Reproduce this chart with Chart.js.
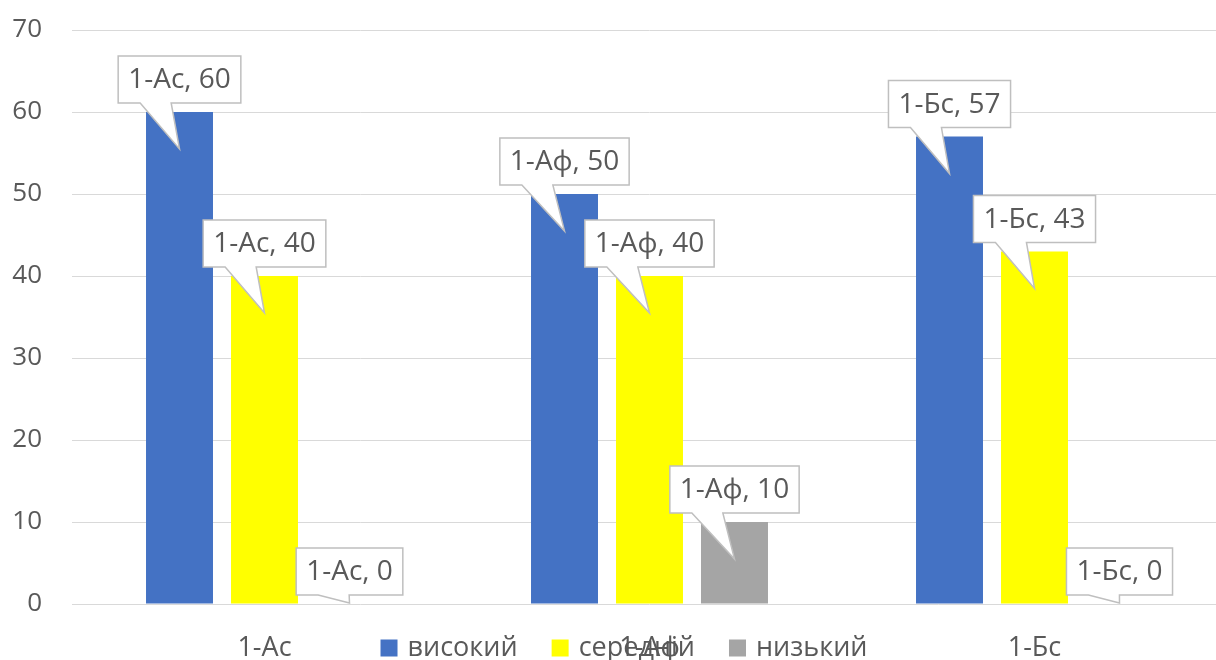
<!DOCTYPE html>
<html>
<head>
<meta charset="utf-8">
<script src="https://cdn.jsdelivr.net/npm/chart.js@4/dist/chart.umd.min.js"></script>
<style>
  html, body { margin: 0; padding: 0; background: #fff; overflow: hidden; }
  #wrap { width: 1248px; height: 660px; }
</style>
</head>
<body>
<div id="wrap"><canvas id="c" width="1248" height="660"></canvas></div>
<script>
// Groups and results per level
const categories = ['1-Ас', '1-Аф', '1-Бс'];
const seriesNames = ['високий', 'середній', 'низький'];
const high = [60, 50, 57];
const middle = [40, 40, 43];
const low = [0, 10, 0];
const yTicks = [0, 10, 20, 30, 40, 50, 60, 70];

const FONT = '"Open Sans", "Noto Sans", sans-serif';
const TEXT = '#595959';
const colors = ['#4472C4', '#FFFF00', '#A5A5A5'];

// Callout-style data labels: white box with a pointer into the bar
const calloutLabels = {
  id: 'calloutLabels',
  afterDatasetsDraw(chart) {
    const ctx = chart.ctx;
    ctx.save();
    ctx.font = '28px ' + FONT;
    chart.data.datasets.forEach((ds, di) => {
      const meta = chart.getDatasetMeta(di);
      meta.data.forEach((bar, i) => {
        const text = chart.data.labels[i] + ', ' + ds.data[i];
        const tw = ctx.measureText(text).width;
        const w = tw + 20, h = 47;
        const left = bar.x - w / 2;
        const bottom = bar.y - 9;
        const top = bottom - h;
        const tipX = bar.x;
        const tipY = Math.min(bar.y + 37, bar.base - 1);
        ctx.beginPath();
        ctx.moveTo(left, top);
        ctx.lineTo(left + w, top);
        ctx.lineTo(left + w, bottom);
        ctx.lineTo(left + 53, bottom);
        ctx.lineTo(tipX, tipY);
        ctx.lineTo(left + 22, bottom);
        ctx.lineTo(left, bottom);
        ctx.closePath();
        ctx.fillStyle = '#FFFFFF';
        ctx.fill();
        ctx.strokeStyle = '#BFBFBF';
        ctx.lineWidth = 1.5;
        ctx.stroke();
        ctx.fillStyle = TEXT;
        ctx.textAlign = 'center';
        ctx.textBaseline = 'middle';
        ctx.fillText(text, bar.x, top + h / 2 + 1);
      });
    });
    ctx.restore();
  }
};

// Legend row drawn along the bottom edge
const bottomLegend = {
  id: 'bottomLegend',
  afterDraw(chart) {
    const ctx = chart.ctx;
    ctx.save();
    ctx.font = '27px ' + FONT;
    const box = 17, gapText = 10, gapItem = 34;
    const items = chart.data.datasets.map(ds => ({
      label: ds.label, color: ds.backgroundColor,
      w: ctx.measureText(ds.label).width
    }));
    const total = items.reduce((s, it) => s + box + gapText + it.w, 0) + gapItem * (items.length - 1);
    let x = chart.width / 2 - total / 2;
    const cy = 648;
    items.forEach(it => {
      ctx.fillStyle = it.color;
      ctx.fillRect(x, cy - box / 2, box, box);
      x += box + gapText;
      ctx.fillStyle = TEXT;
      ctx.textAlign = 'left';
      ctx.textBaseline = 'middle';
      ctx.fillText(it.label, x, cy);
      x += it.w + gapItem;
    });
    ctx.restore();
  }
};

const series = [high, middle, low];
new Chart(document.getElementById('c'), {
  type: 'bar',
  data: {
    labels: categories,
    datasets: seriesNames.map((name, k) => ({
      label: name,
      data: series[k],
      backgroundColor: colors[k],
      barPercentage: 0.788,
      categoryPercentage: 0.6623
    }))
  },
  options: {
    responsive: false,
    animation: false,
    layout: { padding: { top: 30, right: 21, bottom: 0, left: 0 } },
    plugins: { legend: { display: false }, tooltip: { enabled: false } },
    scales: {
      x: {
        grid: { display: false },
        border: { display: false },
        ticks: { color: TEXT, font: { family: FONT, size: 27 }, padding: 20 },
        afterFit(scale) { scale.height = 56; }
      },
      y: {
        min: 0, max: 70,
        afterBuildTicks(scale) { scale.ticks = yTicks.map(v => ({ value: v })); },
        grid: { color: '#D9D9D9', lineWidth: 1, drawTicks: false },
        border: { display: false },
        ticks: { color: TEXT, font: { family: FONT, size: 26 }, padding: 30 },
        afterFit(scale) {
          scale.width = 72;
          scale.paddingTop = 0;
          scale.paddingBottom = 0;
        }
      }
    }
  },
  plugins: [calloutLabels, bottomLegend]
});
</script>
</body>
</html>
